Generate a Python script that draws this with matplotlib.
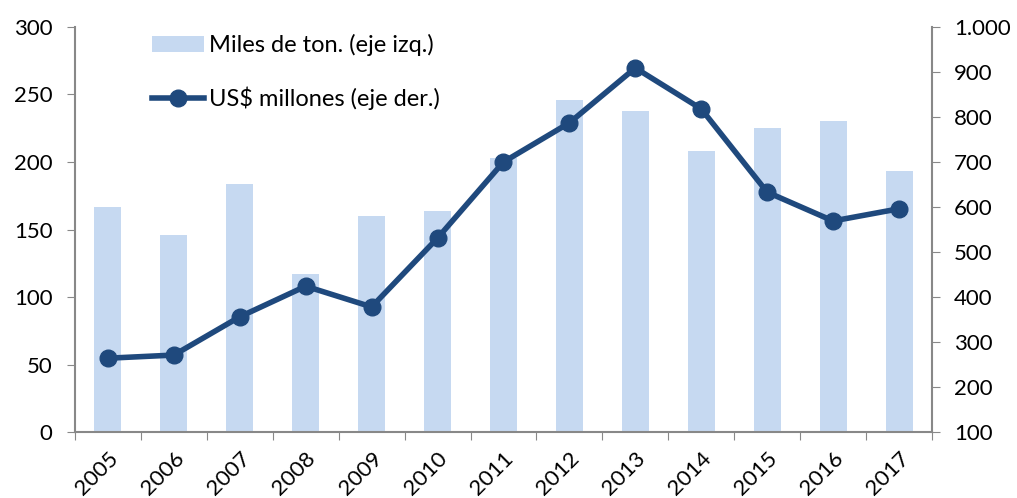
import matplotlib.pyplot as plt
import matplotlib.ticker as mticker

years = ["2005", "2006", "2007", "2008", "2009", "2010", "2011",
         "2012", "2013", "2014", "2015", "2016", "2017"]
miles_ton = [167, 146, 184, 117, 160, 164, 203, 246, 238, 208, 225, 230, 193]
usd_millones = [264, 271, 356, 424, 378, 531, 700, 787, 909, 818, 633, 569, 596]

bar_color = "#C6D9F1"
line_color = "#1F497D"
axis_color = "#888888"

plt.rcParams["font.family"] = ["Lato", "DejaVu Sans"]

fig = plt.figure(figsize=(10.17, 4.98), dpi=100)
ax = fig.add_axes([0.0737, 0.1325, 0.8427, 0.8133])
ax2 = ax.twinx()

x = list(range(len(years)))
b = ax.bar(x, miles_ton, width=0.41, color=bar_color, zorder=1,
           label="Miles de ton. (eje izq.)")
l, = ax2.plot(x, usd_millones, color=line_color, lw=4, marker="o",
              markersize=12, label="US$ millones (eje der.)")

ax.set_xlim(-0.5, len(years) - 0.5)
ax.set_ylim(0, 300)
ax.set_yticks(range(0, 301, 50))
ax2.set_ylim(100, 1000)
ax2.set_yticks(range(100, 1001, 100))
ax2.yaxis.set_major_formatter(
    mticker.FuncFormatter(lambda v, p: f"{int(v):,}".replace(",", ".")))

# ticks between categories, labels centred under the bars
ax.set_xticks([i + 0.5 for i in range(-1, len(years))])
ax.set_xticklabels([])
ax.set_xticks(x, minor=True)
ax.set_xticklabels(years, minor=True, rotation=45, ha="right",
                   rotation_mode="anchor", fontsize=16)
ax.tick_params(axis="x", which="minor", length=0, pad=12)
ax.tick_params(axis="x", which="major", length=6, color=axis_color,
               direction="out")

for a in (ax, ax2):
    a.spines["top"].set_visible(False)
    a.tick_params(axis="y", labelsize=16, length=6, color=axis_color, pad=10)
ax.spines["right"].set_visible(False)
ax2.spines["left"].set_visible(False)
ax2.spines["bottom"].set_visible(False)
ax.spines["left"].set_color(axis_color)
ax.spines["bottom"].set_color(axis_color)
ax2.spines["right"].set_color(axis_color)
for a in (ax, ax2):
    for s in a.spines.values():
        s.set_linewidth(1.5)

ax.legend([b, l], [b.get_label(), l.get_label()], loc="upper left",
          bbox_to_anchor=(0.065, 1.035), frameon=False, fontsize=17,
          handlelength=2.2, handletextpad=0.2, labelspacing=1.3)

fig.savefig("out.png", dpi=100)
